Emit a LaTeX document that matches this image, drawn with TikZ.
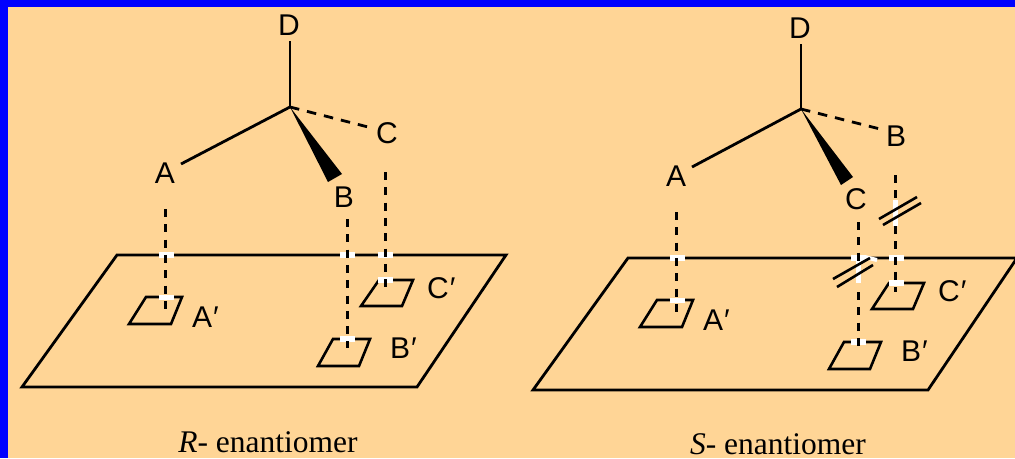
\documentclass[tikz,border=0pt]{standalone}
\usepackage{fontspec}
\setmainfont{Liberation Sans}
\newfontfamily\capfont{Liberation Serif}
\definecolor{bgc}{HTML}{FFD596}
\tikzset{
 lab/.style={inner sep=0pt,font=\fontsize{30}{31}\selectfont},
 capt/.style={inner sep=0pt,anchor=base,font=\capfont\fontsize{31.5}{32}\selectfont},
 ln/.style={line width=2.8pt,line cap=butt,line join=miter},
 dsh/.style={line width=3pt,dash pattern=on 8pt off 7.3pt},
 bnd/.style={line width=2.8pt,dash pattern=on 9.5pt off 8pt},
 wh/.style={white,line width=5.5pt},
 mini/.style={line width=2.6pt},
 slash/.style={line width=2.6pt},
 pt/.style={inner sep=0pt,minimum size=0pt},
}
\begin{document}
\begin{tikzpicture}[x=1pt,y=-1pt]
\useasboundingbox (0,0) rectangle (1015,458);
\fill[blue] (0,0) rectangle (1015,458);
\fill[bgc] (8,7) rectangle (1015,458);
% ---- R
\node[pt] (c1) at (290,107) {};
\node[lab] (D1) at (289,25) {D};
\node[lab] (A1) at (165,173) {A};
\node[lab] (B1) at (344,197) {B};
\node[lab] (C1) at (387,133) {C};
\coordinate (Dl1) at (290,41);
\coordinate (Al1) at (181,164);
\coordinate (Cl1) at (372,128);
\coordinate (W1a) at (342,174);
\coordinate (W1b) at (328,182);
\draw[ln] (c1.center) -- (Dl1);
\draw[ln] (c1.center) -- (Al1);
\draw[bnd] (c1.center) -- (Cl1);
\fill (c1.center) -- (W1a) -- (W1b) -- cycle;
\draw[ln] (117,255) -- (506,255) -- (417,387) -- (22,387) -- cycle;
\draw[mini] (146,297) -- (182,297) -- (171,324) -- (129,324) -- cycle;
\draw[mini] (379,280) -- (413,280) -- (402,306) -- (361,306) -- cycle;
\draw[mini] (333,339) -- (370,339) -- (359,366) -- (318,366) -- cycle;
\foreach \x/\y in {166.5/255,166.5/297.5,347.5/255,347.5/339,385.5/255,385.5/280}
  \draw[wh] (\x-7.5,\y) -- (\x+7.5,\y);
\draw[dsh] (165.5,209) -- (165.5,309);
\draw[dsh] (347,219) -- (347,348);
\draw[dsh] (385.5,172) -- (385.5,289);
\node[lab,anchor=west] (Ap1) at (192,317) {A\kern1pt′};
\node[lab,anchor=west] (Bp1) at (390,348) {B\kern1pt′};
\node[lab,anchor=west] (Cp1) at (427,288) {C\kern1pt′};
\node[capt] (cap1) at (268,452) {\textit{R}- enantiomer};
% ---- S
\node[pt] (c2) at (801,109) {};
\node[lab] (D2) at (800,28) {D};
\node[lab] (A2) at (676,176) {A};
\node[lab] (C2) at (856,199) {C};
\node[lab] (B2) at (896,136) {B};
\coordinate (Dl2) at (801,44);
\coordinate (Al2) at (692,167);
\coordinate (Bl2) at (884,130);
\coordinate (W2a) at (853,177);
\coordinate (W2b) at (841,185);
\draw[ln] (c2.center) -- (Dl2);
\draw[ln] (c2.center) -- (Al2);
\draw[bnd] (c2.center) -- (Bl2);
\fill (c2.center) -- (W2a) -- (W2b) -- cycle;
\draw[ln] (628,258) -- (1017,258) -- (928,390) -- (533,390) -- cycle;
\draw[mini] (657,300) -- (693,300) -- (682,327) -- (640,327) -- cycle;
\draw[mini] (889,283) -- (924,283) -- (913,309) -- (872,309) -- cycle;
\draw[mini] (844,342) -- (881,342) -- (870,369) -- (829,369) -- cycle;
\foreach \x/\y in {677/258,677/300.5,858.5/258,858.5/342,896/258,896/283}
  \draw[wh] (\x-7.5,\y) -- (\x+7.5,\y);
\draw[white,line width=5pt] (895.5,200) -- (895.5,226);
\draw[white,line width=5pt] (858.5,258) -- (858.5,283);
\draw[white,line width=4pt] (865,257) -- (877,260);
\draw[dsh] (676.5,212) -- (676.5,312);
\draw[dsh] (858.5,222) -- (858.5,262);
\draw[dsh] (858.5,292) -- (858.5,350);
\draw[dsh] (895.5,175) -- (895.5,199);
\draw[dsh] (895.5,226) -- (895.5,292);
\draw[slash] (879,219) -- (917,197);
\draw[slash] (883,225) -- (921,203);
\draw[slash] (833,279) -- (870,258);
\draw[slash] (837,287) -- (873,265);
\node[lab,anchor=west] (Ap2) at (703,320) {A\kern1pt′};
\node[lab,anchor=west] (Bp2) at (901,351) {B\kern1pt′};
\node[lab,anchor=west] (Cp2) at (938,291) {C\kern1pt′};
\node[capt] (cap2) at (778,454) {\textit{S}- enantiomer};
\end{tikzpicture}
\end{document}
